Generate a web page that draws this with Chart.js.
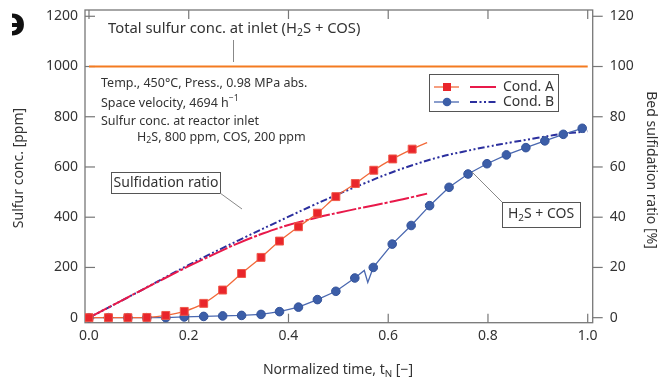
<!DOCTYPE html>
<html>
<head>
<meta charset="utf-8">
<script src="https://cdn.jsdelivr.net/npm/chart.js@4"></script>
<style>
html, body { margin: 0; background: #fff; }
</style>
</head>
<body>
<canvas id="sulfurChart" width="659" height="383"></canvas>
<script>
// tick labels
const xTicks = [0, 0.2, 0.4, 0.6, 0.8, 1.0];
const yTicks = [0, 200, 400, 600, 800, 1000, 1200];
const y2Ticks = [0, 20, 40, 60, 80, 100, 120];

// total sulfur at inlet
const inletTime = [0, 1.0];
const inletConc = [1000, 1000];

// Cond. A outlet conc (squares)
const aTime = [0, 0.039, 0.078, 0.116, 0.154, 0.191, 0.230, 0.268, 0.306, 0.345, 0.382, 0.420, 0.458, 0.495, 0.534, 0.571, 0.609, 0.648];
const aConc = [0, 0, 0, 1, 9, 25, 57, 110, 176, 240, 305, 362, 416, 482, 534, 587, 632, 671];
const aTailTime = [0.678];
const aTailConc = [697];

// Cond. B outlet conc (circles)
const bTime = [0, 0.039, 0.078, 0.116, 0.154, 0.191, 0.230, 0.268, 0.306, 0.345, 0.382, 0.420, 0.458, 0.495, 0.533, 0.570, 0.608, 0.646, 0.683, 0.722, 0.760, 0.798, 0.837, 0.876, 0.914, 0.951, 0.989];
const bConc = [0, 0, 0, 0, 0, 3, 5, 7, 9, 13, 24, 42, 72, 105, 158, 200, 293, 367, 446, 519, 572, 613, 648, 677, 704, 730, 754];
const bSpikeTime = [0.552, 0.559];
const bSpikeConc = [188, 140];

// bed sulfidation ratio [%]
const aRatioTime = [0, 0.05, 0.1, 0.15, 0.2, 0.25, 0.3, 0.35, 0.4, 0.45, 0.5, 0.55, 0.6, 0.65, 0.678];
const aRatio = [0, 5.2, 10.4, 15.5, 20.5, 25.2, 29.7, 33.6, 36.9, 39.5, 41.8, 43.9, 45.9, 48.1, 49.4];
const bRatioTime = [0, 0.1, 0.2, 0.3, 0.4, 0.45, 0.5, 0.55, 0.6, 0.65, 0.7, 0.75, 0.8, 0.85, 0.9, 0.95, 1.0];
const bRatio = [0, 10.4, 21, 30.8, 40.2, 44.8, 49.2, 53.3, 57.3, 60.8, 63.8, 66.1, 68.1, 69.9, 71.6, 73.2, 74.2];

const FONT = '"Noto Sans", sans-serif';
const TXT = '#333';
const FRAME = '#777';

function pts(xs, ys) {
    return xs.map((x, i) => ({ x: x, y: ys[i] }));
}

const bLinePts = pts(bTime, bConc).concat(pts(bSpikeTime, bSpikeConc)).sort((p, q) => p.x - q.x);

// draw text with sub/superscript parts
function richText(ctx, parts, x, y, size, align) {
    const widths = parts.map(p => {
        ctx.font = (p.sub || p.sup ? size * 0.7 : size) + 'px ' + FONT;
        return ctx.measureText(p.t).width;
    });
    const total = widths.reduce((a, b) => a + b, 0);
    let cx = align === 'center' ? x - total / 2 : x;
    ctx.textAlign = 'left';
    ctx.textBaseline = 'middle';
    parts.forEach((p, i) => {
        ctx.font = (p.sub || p.sup ? size * 0.7 : size) + 'px ' + FONT;
        let dy = 0;
        if (p.sub) dy = size * 0.3;
        if (p.sup) dy = -size * 0.35;
        ctx.fillText(p.t, cx, y + dy);
        cx += widths[i];
    });
    return total;
}

function line(ctx, x1, y1, x2, y2) {
    ctx.beginPath();
    ctx.moveTo(x1, y1);
    ctx.lineTo(x2, y2);
    ctx.stroke();
}

const framePlugin = {
    id: 'frame',
    beforeDatasetsDraw(chart) {
        const { ctx, chartArea: a, scales } = chart;
        ctx.save();
        ctx.strokeStyle = FRAME;
        ctx.lineWidth = 1.3;
        ctx.strokeRect(a.left, a.top, a.right - a.left, a.bottom - a.top);
        ctx.lineWidth = 1.2;
        xTicks.forEach(v => {
            const px = scales.x.getPixelForValue(v);
            line(ctx, px, a.bottom, px, a.bottom - 9);
            line(ctx, px, a.top, px, a.top + 9);
        });
        yTicks.forEach(v => {
            const py = scales.y.getPixelForValue(v);
            line(ctx, a.left, py, a.left + 10, py);
        });
        y2Ticks.forEach(v => {
            const py = scales.y2.getPixelForValue(v);
            line(ctx, a.right, py, a.right + 10, py);
        });
        ctx.restore();
    },
    afterDraw(chart) {
        const { ctx } = chart;
        ctx.save();
        ctx.fillStyle = TXT;

        // cropped panel letter
        ctx.save();
        ctx.beginPath();
        ctx.rect(12, 0, 30, 50);
        ctx.clip();
        ctx.font = 'bold 38px "DejaVu Sans", sans-serif';
        ctx.textAlign = 'center';
        ctx.textBaseline = 'middle';
        ctx.fillStyle = '#111';
        ctx.fillText('\u0258', 13, 25);
        ctx.restore();

        // axis titles
        ctx.fillStyle = TXT;
        richText(ctx, [{ t: 'Normalized time, t' }, { t: 'N', sub: true }, { t: ' [\u2212]' }], 338, 370, 14, 'center');
        ctx.save();
        ctx.translate(19, 168);
        ctx.rotate(-Math.PI / 2);
        richText(ctx, [{ t: 'Sulfur conc. [ppm]' }], 0, 0, 14, 'center');
        ctx.restore();
        ctx.save();
        ctx.translate(651, 170);
        ctx.rotate(Math.PI / 2);
        richText(ctx, [{ t: 'Bed sulfidation ratio [%]' }], 0, 0, 14, 'center');
        ctx.restore();

        // inlet label
        richText(ctx, [{ t: 'Total sulfur conc. at inlet (H' }, { t: '2', sub: true }, { t: 'S + COS)' }], 108, 29, 14.8, 'left');
        ctx.strokeStyle = '#888';
        ctx.lineWidth = 1;
        line(ctx, 233.5, 40, 233.5, 62);

        // conditions
        richText(ctx, [{ t: 'Temp., 450\u00b0C, Press., 0.98 MPa abs.' }], 101, 83, 12.5, 'left');
        richText(ctx, [{ t: 'Space velocity, 4694 h' }, { t: '\u22121', sup: true }], 101, 103, 12.5, 'left');
        richText(ctx, [{ t: 'Sulfur conc. at reactor inlet' }], 101, 121, 12.5, 'left');
        richText(ctx, [{ t: 'H' }, { t: '2', sub: true }, { t: 'S, 800 ppm, COS, 200 ppm' }], 137, 137, 12.5, 'left');

        // callout boxes
        ctx.strokeStyle = '#555';
        ctx.lineWidth = 1;
        ctx.fillStyle = '#fff';
        ctx.fillRect(111, 172, 109, 21);
        ctx.strokeRect(111.5, 172.5, 109, 21);
        ctx.strokeStyle = '#888';
        line(ctx, 220, 193, 242, 209);
        ctx.fillStyle = TXT;
        richText(ctx, [{ t: 'Sulfidation ratio' }], 166, 183, 14, 'center');

        ctx.strokeStyle = '#888';
        line(ctx, 472, 172, 502, 202);
        ctx.strokeStyle = '#555';
        ctx.fillStyle = '#fff';
        ctx.fillRect(502, 202, 78, 25);
        ctx.strokeRect(502.5, 202.5, 78, 25);
        ctx.fillStyle = TXT;
        richText(ctx, [{ t: 'H' }, { t: '2', sub: true }, { t: 'S + COS' }], 541, 214, 14, 'center');

        // legend
        ctx.strokeStyle = '#555';
        ctx.fillStyle = '#fff';
        ctx.fillRect(429, 74, 129, 37);
        ctx.strokeRect(429.5, 74.5, 129, 37);
        const rows = [
            { y: 87, lc: '#f26a3a', mark: 'rect', mc: '#e9252b', rc: '#e8194a', dash: [], label: 'Cond. A' },
            { y: 102, lc: '#4a68b0', mark: 'circle', mc: '#3c5ea8', rc: '#2b2f9e', dash: [7, 2.5, 2, 2.5, 2, 2.5], label: 'Cond. B' }
        ];
        rows.forEach(r => {
            ctx.strokeStyle = r.lc;
            ctx.lineWidth = 1.3;
            ctx.setLineDash([]);
            line(ctx, 434, r.y, 459, r.y);
            ctx.fillStyle = r.mc;
            if (r.mark === 'rect') {
                ctx.fillRect(443, r.y - 4, 8, 8);
            } else {
                ctx.beginPath();
                ctx.arc(447, r.y, 4.3, 0, Math.PI * 2);
                ctx.fill();
            }
            ctx.strokeStyle = r.rc;
            ctx.lineWidth = 2;
            ctx.setLineDash(r.dash);
            line(ctx, 470, r.y, 496, r.y);
            ctx.setLineDash([]);
            ctx.fillStyle = TXT;
            richText(ctx, [{ t: r.label }], 503, r.y, 14, 'left');
        });
        ctx.restore();
    }
};

function fixY(width) {
    return s => {
        s.width = width;
        s.paddingTop = 0;
        s.paddingBottom = 0;
    };
}

new Chart(document.getElementById('sulfurChart'), {
    type: 'scatter',
    data: {
        datasets: [
            {
                label: 'Cond. A',
                data: pts(aTime, aConc),
                yAxisID: 'y',
                showLine: false,
                pointStyle: 'rect',
                pointRadius: 5.6,
                backgroundColor: '#e9252b',
                borderColor: '#f0584a',
                borderWidth: 1,
                order: 0
            },
            {
                label: 'Cond. B',
                data: pts(bTime, bConc),
                yAxisID: 'y',
                showLine: false,
                pointStyle: 'circle',
                pointRadius: 4.3,
                backgroundColor: '#3c5ea8',
                borderColor: '#34539a',
                borderWidth: 1,
                order: 1
            },
            {
                label: 'Cond. A line',
                data: pts(aTime, aConc).concat(pts(aTailTime, aTailConc)),
                yAxisID: 'y',
                showLine: true,
                pointRadius: 0,
                borderColor: '#f26a3a',
                borderWidth: 1.3,
                tension: 0.2,
                order: 2
            },
            {
                label: 'Cond. B line',
                data: bLinePts,
                yAxisID: 'y',
                showLine: true,
                pointRadius: 0,
                borderColor: '#4a68b0',
                borderWidth: 1.3,
                tension: 0,
                order: 3
            },
            {
                label: 'Cond. A ratio',
                data: pts(aRatioTime, aRatio),
                yAxisID: 'y2',
                showLine: true,
                pointRadius: 0,
                borderColor: '#e8194a',
                borderWidth: 2,
                borderDash: [20, 2, 3, 2],
                tension: 0.4,
                order: 4
            },
            {
                label: 'Cond. B ratio',
                data: pts(bRatioTime, bRatio),
                yAxisID: 'y2',
                showLine: true,
                pointRadius: 0,
                borderColor: '#2b2f9e',
                borderWidth: 2,
                borderDash: [7, 2.5, 2, 2.5, 2, 2.5],
                tension: 0.4,
                order: 5
            },
            {
                label: 'Inlet',
                data: pts(inletTime, inletConc),
                yAxisID: 'y',
                showLine: true,
                pointRadius: 0,
                borderColor: '#f47b20',
                borderWidth: 2,
                order: 6
            }
        ]
    },
    options: {
        responsive: false,
        animation: false,
        layout: { padding: { top: 10, left: 0, right: 0, bottom: 0 } },
        plugins: { legend: { display: false }, tooltip: { enabled: false } },
        scales: {
            x: {
                type: 'linear',
                min: -0.008,
                max: 1.01,
                afterBuildTicks: s => { s.ticks = xTicks.map(v => ({ value: v })); },
                afterFit: s => { s.height = 60.3; s.paddingLeft = 0; s.paddingRight = 0; },
                grid: { display: false, drawTicks: false },
                border: { display: false },
                ticks: {
                    padding: 5,
                    color: TXT,
                    font: { family: FONT, size: 14 },
                    callback: v => v.toFixed(1)
                }
            },
            y: {
                position: 'left',
                min: -20,
                max: 1225,
                afterBuildTicks: s => { s.ticks = yTicks.map(v => ({ value: v })); },
                afterFit: fixY(85),
                grid: { display: false, drawTicks: false },
                border: { display: false },
                ticks: { padding: 7, color: TXT, font: { family: FONT, size: 14 }, callback: v => String(v) }
            },
            y2: {
                position: 'right',
                min: -2,
                max: 122.5,
                afterBuildTicks: s => { s.ticks = y2Ticks.map(v => ({ value: v })); },
                afterFit: fixY(66.3),
                grid: { display: false, drawTicks: false },
                border: { display: false },
                ticks: { padding: 17, color: TXT, font: { family: FONT, size: 14 }, callback: v => String(v) }
            }
        }
    },
    plugins: [framePlugin]
});
</script>
</body>
</html>
